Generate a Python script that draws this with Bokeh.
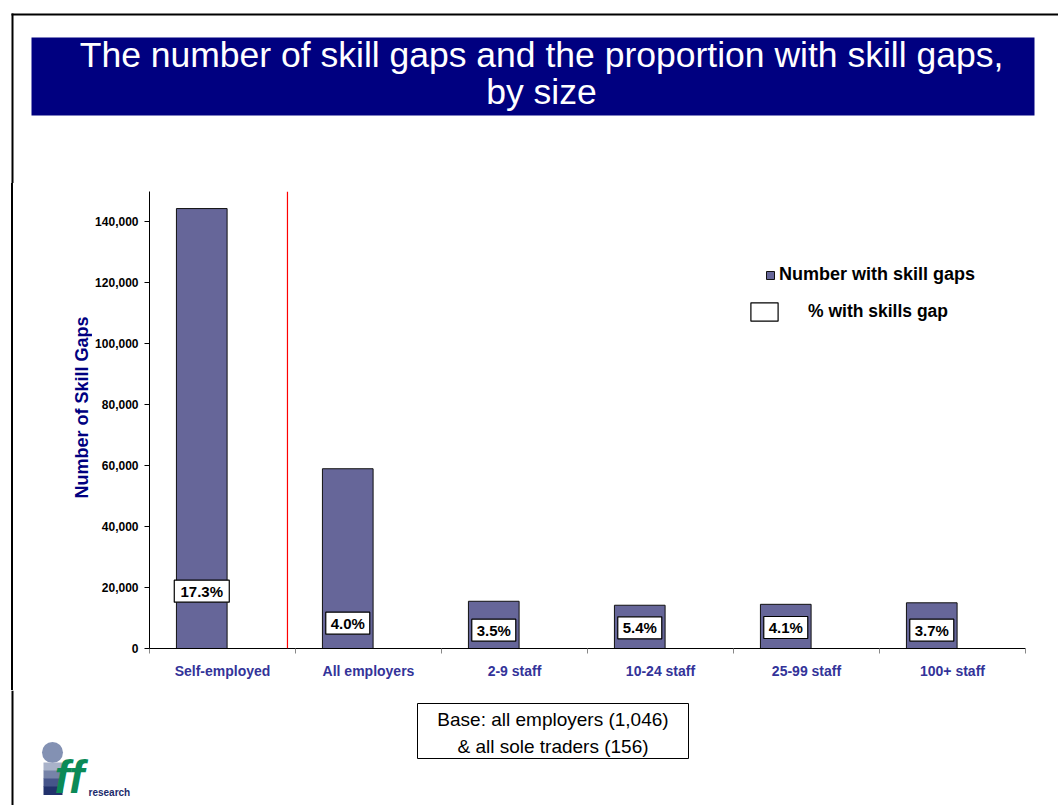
from math import pi
from bokeh.plotting import figure
from bokeh.layouts import column, row
from bokeh.models import (Range1d, FixedTicker, NumeralTickFormatter, Span,
                          Legend, LegendItem, ColumnDataSource)
from bokeh.core.properties import value
from bokeh.embed import file_html
from bokeh.resources import INLINE

# ---------------- data ----------------
categories = ["Self-employed", "All employers", "2-9 staff", "10-24 staff", "25-99 staff", "100+ staff"]
skill_gap_counts = [144400, 59000, 15500, 14200, 14500, 15000]
pct_with_skills_gap = [17.3, 4.0, 3.5, 5.4, 4.1, 3.7]
pct_label_level = [18800, 8300, 6000, 6800, 6900, 6000]   # where each % label sits (data units)
y_tick_values = [0, 20000, 40000, 60000, 80000, 100000, 120000, 140000]
y_max = 150000

title_lines = ["The number of skill gaps and the proportion with skill gaps,", "by size"]
y_title = "Number of Skill Gaps"
series_name = "Number with skill gaps"
pct_name = "% with skills gap"
base_lines = ["Base: all employers (1,046)", "& all sole traders (156)"]

FONT = "Liberation Sans"
NAVY = "#000080"
TOTAL_W, TOTAL_H = 1058, 805
TOP_H, MID_H = 183, 507
BOT_H = TOTAL_H - TOP_H - MID_H
MB_TOP, MB_BOT = 8, 42            # chart frame: y 191..648 on the page
SPACER_W, STRIP_W, YT_W = 11, 2, 79
LEFT_W = SPACER_W + STRIP_W + YT_W


def deco_fig(w, h, y_start=None, y_end=None, mb_top=0, mb_bot=0, color="white"):
    """A figure whose data units are page pixels (y grows downward)."""
    f = figure(width=w, height=h, x_range=Range1d(0, w),
               y_range=Range1d(h if y_start is None else y_start, 0 if y_end is None else y_end),
               x_axis_type=None, y_axis_type=None, output_backend="svg",
               toolbar_location=None, min_border=0, min_border_top=mb_top,
               min_border_bottom=mb_bot)
    f.outline_line_color = None
    f.xgrid.visible = False
    f.ygrid.visible = False
    f.background_fill_color = color
    f.border_fill_color = color
    return f


# ---------------- top: frame + title banner ----------------
top = deco_fig(TOTAL_W, TOP_H)
top.quad(left=11, right=TOTAL_W, top=13, bottom=15, fill_color="black", line_color=None)
top.quad(left=11, right=13, top=13, bottom=TOP_H, fill_color="black", line_color=None)
top.quad(left=31, right=1034, top=37, bottom=115, fill_color=NAVY, line_color=None)
top.text(x=[541, 541], y=[54.5, 91.5], text=title_lines, text_align="center",
         text_baseline="middle", text_font=value(FONT), text_font_size="35.5px",
         text_color="white")

# ---------------- left strips: frame line + y title ----------------
frame_top_px = TOP_H + MB_TOP
frame_bot_px = TOP_H + MID_H - MB_BOT
spacer = deco_fig(SPACER_W, MID_H, frame_bot_px, frame_top_px, MB_TOP, MB_BOT)
strip = deco_fig(STRIP_W, MID_H, frame_bot_px, frame_top_px, MB_TOP, MB_BOT, color="black")
strip.styles = {"background-color": "black"}
ytitle = deco_fig(YT_W, MID_H, frame_bot_px, frame_top_px, MB_TOP, MB_BOT)
ytitle.x_range = Range1d(SPACER_W + STRIP_W, LEFT_W)
ytitle.text(x=[81.5], y=[407], text=[y_title], angle=pi / 2, text_align="center",
            text_baseline="middle", text_font=value(FONT), text_font_style="bold",
            text_font_size="18px", text_color=NAVY)

# ---------------- chart ----------------
n = len(categories)
centers = list(range(n))
bar_offset = -0.142
bar_width = 0.347
bar_x = [c + bar_offset for c in centers]
pct_text = ["%.1f%%" % v for v in pct_with_skills_gap]
box_w = [11 * len(t) for t in pct_text]

src = ColumnDataSource(dict(x=bar_x, top=skill_gap_counts, ly=pct_label_level,
                            pct=pct_text, bw=box_w, cat=categories))

CW = TOTAL_W - LEFT_W
p_chart = figure(width=CW, height=MID_H, x_range=Range1d(-0.5, n - 0.5), y_range=Range1d(0, y_max),
                 output_backend="svg", toolbar_location=None,
                 min_border_left=149 - LEFT_W, min_border_right=33,
                 min_border_top=MB_TOP, min_border_bottom=MB_BOT)
p_chart.outline_line_color = None
p_chart.xgrid.visible = False
p_chart.ygrid.visible = False
p_chart.background_fill_color = "white"
p_chart.border_fill_color = "white"

bars = p_chart.vbar(x="x", top="top", bottom=0, width=bar_width, source=src,
                    fill_color="#666699", line_color="#111111", line_width=1)
boxes = p_chart.rect(x="x", y="ly", width="bw", height=22, width_units="screen",
                     height_units="screen", source=src, fill_color="white",
                     line_color="black", line_width=1.2)
p_chart.text(x="x", y="ly", text="pct", source=src, text_align="center", text_baseline="middle",
             text_font=value(FONT), text_font_style="bold", text_font_size="15px",
             text_color="black")

# divider between the self-employed and the employer groups
p_chart.add_layout(Span(location=0.5 - 0.055, dimension="height", line_color="#ff0000",
                        line_width=1.2))

xa = p_chart.xaxis[0]
xa.ticker = FixedTicker(ticks=centers, minor_ticks=[c - 0.5 for c in range(n + 1)])
xa.major_label_overrides = {c: cat for c, cat in zip(centers, categories)}
xa.major_tick_out = 0
xa.major_tick_in = 0
xa.minor_tick_out = 5
xa.minor_tick_in = 0
xa.minor_tick_line_color = "#888888"
xa.axis_line_color = "black"
xa.major_label_text_font = FONT
xa.major_label_text_font_style = "bold"
xa.major_label_text_font_size = "14px"
xa.major_label_text_color = "#333399"
xa.major_label_standoff = 9

ya = p_chart.yaxis[0]
ya.ticker = FixedTicker(ticks=y_tick_values)
ya.formatter = NumeralTickFormatter(format="0,0")
ya.major_tick_out = 5
ya.major_tick_in = 0
ya.minor_tick_out = 0
ya.minor_tick_in = 0
ya.axis_line_color = "black"
ya.major_tick_line_color = "black"
ya.major_label_text_font = FONT
ya.major_label_text_font_style = "bold"
ya.major_label_text_font_size = "12px"
ya.major_label_text_color = "black"
ya.major_label_standoff = 6

leg1 = Legend(items=[LegendItem(label=series_name, renderers=[bars])], location=(616, 363),
              glyph_width=10, glyph_height=10, label_standoff=4, padding=0, margin=0, spacing=0,
              border_line_color=None, background_fill_alpha=0,
              label_text_font=FONT, label_text_font_style="bold", label_text_font_size="18px",
              label_text_color="black")
leg2 = Legend(items=[LegendItem(label=pct_name, renderers=[boxes])], location=(598, 325),
              glyph_width=34, glyph_height=23, label_standoff=27, padding=0, margin=0, spacing=0,
              border_line_color=None, background_fill_alpha=0,
              label_text_font=FONT, label_text_font_style="bold", label_text_font_size="17.5px",
              label_text_color="black")
p_chart.add_layout(leg1)
p_chart.add_layout(leg2)

# ---------------- bottom: frame, base note, logo ----------------
bottom = deco_fig(TOTAL_W, BOT_H)
y0 = TOP_H + MID_H
bottom.quad(left=11, right=13, top=0, bottom=BOT_H, fill_color="black", line_color=None)
bottom.quad(left=417, right=688, top=703 - y0, bottom=758 - y0, fill_color="white",
            line_color="black", line_width=1)
bottom.text(x=[552.5, 552.5], y=[719 - y0, 746 - y0], text=base_lines, text_align="center",
            text_baseline="middle", text_font=value(FONT), text_font_size="19px",
            text_color="black")
# logo
bottom.circle(x=[52], y=[752 - y0], radius=10.5, fill_color="#8391b3", line_color=None)
band_tops = [762, 770, 778, 786]
band_cols = ["#a9b2c9", "#7683a8", "#46558a", "#22326c"]
bottom.quad(left=43, right=62, top=[t - y0 for t in band_tops],
            bottom=[t + 8.5 - y0 for t in band_tops], fill_color=band_cols, line_color=None)
bottom.text(x=[54], y=[776 - y0], text=["ff"], text_align="left", text_baseline="middle",
            text_font=value(FONT), text_font_style="bold italic", text_font_size="46px",
            text_color="#0b8a57")
bottom.text(x=[88], y=[792 - y0], text=["research"], text_align="left",
            text_baseline="middle", text_font=value(FONT), text_font_style="bold",
            text_font_size="10px", text_color="#1c2a6a")

p = column(top, row(spacer, strip, ytitle, p_chart), bottom)
open("out.html", "w").write(file_html(p, INLINE))
